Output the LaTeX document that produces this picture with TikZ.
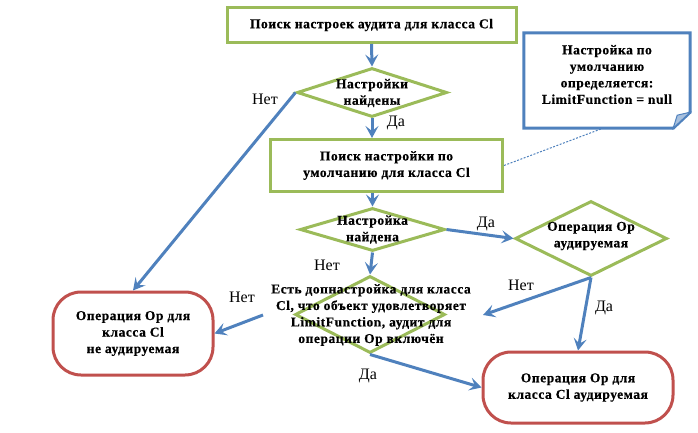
\documentclass[tikz,border=0pt]{standalone}
\usepackage{fontspec}
\setmainfont{Liberation Serif}
\newfontfamily\boxfont[LetterSpace=4,FakeBold=0.5]{Liberation Serif Bold}
\usetikzlibrary{shapes.geometric,arrows.meta}
\definecolor{grn}{RGB}{155,187,89}
\definecolor{blu}{RGB}{79,129,189}
\definecolor{rd}{RGB}{192,80,77}
\definecolor{fold}{RGB}{167,192,222}
\begin{document}
\begin{tikzpicture}[x=1pt,y=-1pt,
 bfnt/.style={font=\boxfont\fontsize{13.5}{16.5}\selectfont},
 proc/.style={draw=grn,line width=3pt,inner sep=0pt,align=center,bfnt},
 dia/.style={diamond,draw=grn,line width=3pt,inner sep=0pt},
 term/.style={draw=rd,line width=3pt,rounded corners=28pt,inner sep=0pt,align=center,bfnt},
 txt/.style={bfnt,align=center,inner sep=0pt},
 lbl/.style={font=\fontsize{16}{18}\selectfont,inner sep=0pt},
 arr/.style={draw=blu,line width=3pt,-{Stealth[length=12pt,width=13pt,inset=5pt]}},
]
\useasboundingbox (0,0) rectangle (698,433);
% boxes
\node[proc,minimum width=289pt,minimum height=35pt] (b1) at (371.5,25) {Поиск настроек аудита для класса Cl};
\node[proc,minimum width=232pt,minimum height=52pt] (b2) at (386.5,165.5) {Поиск настройки по\\умолчанию для класса Cl};
% diamonds
\node[dia,minimum width=150pt,minimum height=49pt] (d1) at (372,92.5) {};
\node[txt] (t1) at (372,93) {Настройки\\найдены};
\node[dia,minimum width=145pt,minimum height=43pt] (d2) at (372.5,229.5) {};
\node[txt] (t2) at (372.5,229.5) {Настройка\\найдена};
\node[dia,minimum width=152pt,minimum height=75pt] (d3) at (591,238.5) {};
\node[txt] (t3) at (591,236) {Операция Op\\аудируемая};
\node[dia,minimum width=150pt,minimum height=77pt] (d4) at (370,314.5) {};
\node[txt] (t4) at (371,315) {Есть допнастройка для класса\\Cl, что объект удовлетворяет\\LimitFunction, аудит для\\операции Op включён};
% terminals
\node[term,minimum width=160pt,minimum height=83pt] (lt) at (133,333.5) {Операция Op для\\класса Cl\\не аудируемая};
\node[term,minimum width=190pt,minimum height=71pt] (rt) at (578,387.5) {Операция Op для\\класса Cl аудируемая};
% note
\node[inner sep=0pt,minimum width=166pt,minimum height=95pt] (nt) at (607,80.5) {};
\draw[blu,line width=3pt,line join=miter] (nt.north west) -- (nt.north east) -- ([yshift=16pt]nt.south east) -- ([xshift=-17pt]nt.south east) -- (nt.south west) -- cycle;
\fill[fold,draw=blu,line width=1pt] ([yshift=16pt]nt.south east) -- ([xshift=-13pt,yshift=13pt]nt.south east) -- ([xshift=-17pt]nt.south east) -- cycle;
\node[txt] (tn) at (607,74.5) {Настройка по\\умолчанию\\определяется:\\LimitFunction = null};
\coordinate (nb) at ([xshift=-4pt]nt.south);
\draw[blu,line width=1pt,dash pattern=on 2pt off 1.5pt] (b2.east) -- (nb);
% connectors
\coordinate (c8) at (483,315);
\coordinate (c10) at (263,315);
\draw[arr] (b1.south) -- (d1.north);
\draw[arr] (d1.south) -- (d1.south |- b2.north);
\draw[arr] (d1.west) -- (lt.north);
\draw[arr] (d2.north |- b2.south) -- (d2.north);
\draw[arr] (d2.east) -- (d3.west);
\draw[arr] (d2.south) -- (d4.north);
\draw[arr] (d3.south) -- (rt.north);
\draw[arr] (d3.south) -- (c8);
\draw[arr] (d4.south) -- (rt.west);
\draw[arr] (c10) -- (lt.east);
% labels
\node[lbl] (l1) at (265,99) {Нет};
\node[lbl] (l2) at (396,123) {Да};
\node[lbl] (l3) at (486,224) {Да};
\node[lbl] (l4) at (327,265) {Нет};
\node[lbl] (l5) at (521,285) {Нет};
\node[lbl] (l6) at (604,308) {Да};
\node[lbl] (l7) at (242,297) {Нет};
\node[lbl] (l8) at (368,376) {Да};
\end{tikzpicture}
\end{document}
